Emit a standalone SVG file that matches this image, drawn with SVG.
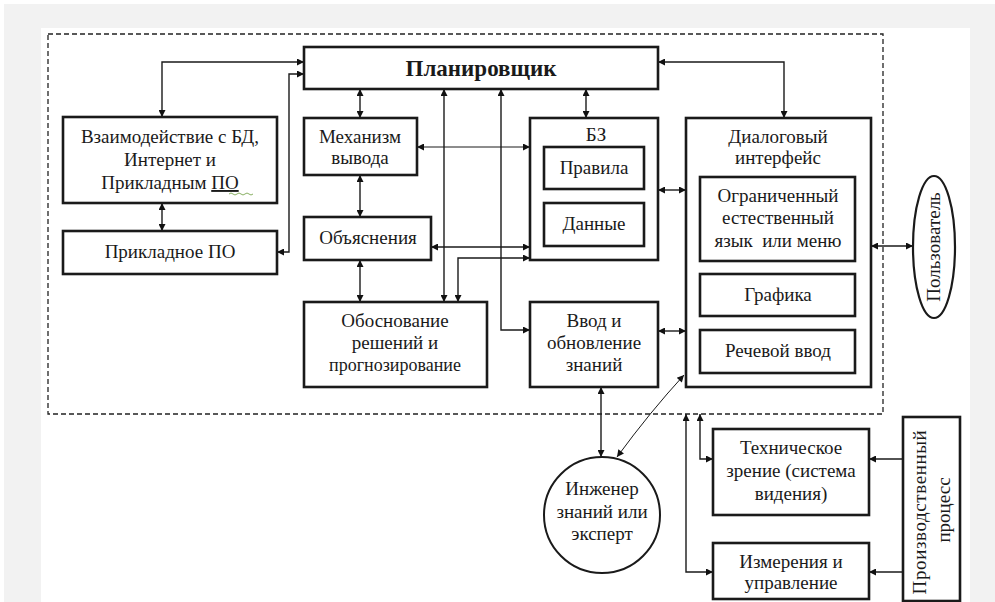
<svg xmlns="http://www.w3.org/2000/svg" width="995" height="602" viewBox="0 0 995 602">
<defs>
<marker id="ah" viewBox="0 0 10 10" refX="10" refY="5" markerWidth="9" markerHeight="7" markerUnits="userSpaceOnUse" orient="auto-start-reverse">
<path d="M0,0 L10,5 L0,10 z" fill="#111"/>
</marker>
<style>
.box{fill:#fff;stroke:#1a1a1a;stroke-width:2.6}
.c{fill:none;stroke:#1a1a1a;stroke-width:1.4;marker-start:url(#ah);marker-end:url(#ah)}
.one{marker-start:none}
.thin{stroke-width:1}
</style>
</defs>
<rect x="0" y="0" width="995" height="602" fill="#fff"/>
<rect x="4" y="4" width="991" height="598" fill="#f2f2f2"/>
<rect x="41" y="28" width="929" height="574" fill="#fff"/>
<rect x="48" y="34" width="835" height="380" fill="none" stroke="#222" stroke-width="1.3" stroke-dasharray="5,3"/>

<g id="connectors">
<path class="c" d="M162,117 V62 H304"/>
<path class="c" d="M277,252 H289 V74 H304"/>
<path class="c" d="M162,203 V231"/>
<path class="c" d="M360,89 V118"/>
<path class="c" d="M360,175 V217"/>
<path class="c" d="M360,260 V302"/>
<path class="c" d="M444,89 V302"/>
<path class="c" d="M501,89 V330 H530"/>
<path class="c" d="M458,302 V258 H530"/>
<path class="c" d="M431,247 H530"/>
<path class="c thin" d="M417,147 H530"/>
<path class="c" d="M586,89 V118"/>
<path class="c" d="M658,62 H784 V118"/>
<path class="c" d="M658,190 H686"/>
<path class="c" d="M658,331 H686"/>
<path class="c" d="M871,246 H913"/>
<path class="c" d="M601,387 V457"/>
<path class="c thin" d="M684,375 Q650,412 617,457"/>
<path class="c one" d="M903,459 H869"/>
<path class="c one" d="M903,572 H869"/>
<path class="c" d="M713,459 H700 V414"/>
<path class="c" d="M713,572 H686 V414"/>
</g>

<g fill="#1a1a1a" text-anchor="middle" font-size="19">
<g id="planner"><rect class="box" x="304" y="47" width="354" height="42"/><text font-family="Liberation Serif" font-weight="bold" font-size="23" x="481" y="76">Планировщик</text></g>
<g id="bd"><rect class="box" x="63" y="117" width="214" height="86"/>
<text font-family="Liberation Serif" x="170" y="143">Взаимодействие с БД,</text>
<text font-family="Liberation Serif" x="170" y="166">Интернет и</text>
<text font-family="Liberation Serif" x="170" y="189">Прикладным <tspan text-decoration="underline">ПО</tspan></text>
<path d="M229,194 q2,-2 4,0 t4,0 t4,0 t4,0 t4,0 t4,0" fill="none" stroke="#6a9a3a" stroke-width="0.8"/></g>
<g id="prik"><rect class="box" x="63" y="231" width="214" height="43"/><text font-family="Liberation Serif" x="170" y="258">Прикладное ПО</text></g>
<g id="mech"><rect class="box" x="304" y="118" width="113" height="57"/>
<text font-family="Liberation Serif" x="360" y="143">Механизм</text><text font-family="Liberation Serif" x="360" y="164">вывода</text></g>
<g id="expl"><rect class="box" x="304" y="217" width="127" height="43"/><text font-family="Liberation Serif" x="368" y="244">Объяснения</text></g>
<g id="bz"><rect class="box" x="530" y="118" width="128" height="142"/>
<text font-family="Liberation Serif" x="596" y="141">БЗ</text>
<rect class="box" x="544" y="147" width="100" height="42"/><text font-family="Liberation Serif" x="594" y="174">Правила</text>
<rect class="box" x="544" y="203" width="100" height="43"/><text font-family="Liberation Serif" x="594" y="230">Данные</text></g>
<g id="dialog"><rect class="box" x="686" y="118" width="185" height="269"/>
<text font-family="Liberation Serif" x="778" y="143">Диалоговый</text><text font-family="Liberation Serif" x="778" y="164">интерфейс</text>
<rect class="box" x="700" y="177" width="155" height="84"/>
<text font-family="Liberation Serif" x="778" y="202">Ограниченный</text><text font-family="Liberation Serif" x="778" y="224">естественный</text><text font-family="Liberation Serif" x="778" y="247" xml:space="preserve">язык  или меню</text>
<rect class="box" x="700" y="274" width="155" height="42"/><text font-family="Liberation Serif" x="778" y="301">Графика</text>
<rect class="box" x="700" y="330" width="155" height="43"/><text font-family="Liberation Serif" x="778" y="357">Речевой ввод</text></g>
<g id="obosn"><rect class="box" x="304" y="302" width="183" height="85"/>
<text font-family="Liberation Serif" x="395" y="327">Обоснование</text><text font-family="Liberation Serif" x="395" y="349">решений и</text><text font-family="Liberation Serif" x="395" y="371" font-size="18">прогнозирование</text></g>
<g id="vvod"><rect class="box" x="530" y="302" width="128" height="85"/>
<text font-family="Liberation Serif" x="594" y="327">Ввод и</text><text font-family="Liberation Serif" x="594" y="349">обновление</text><text font-family="Liberation Serif" x="594" y="371">знаний</text></g>
<g id="user"><ellipse cx="934" cy="247" rx="21" ry="71" fill="#fff" stroke="#1a1a1a" stroke-width="2.2"/>
<text font-family="Liberation Serif" transform="translate(940,247) rotate(-90)" x="0" y="0">Пользователь</text></g>
<g id="engineer"><circle cx="602" cy="515" r="58" fill="#fff" stroke="#1a1a1a" stroke-width="2"/>
<text font-family="Liberation Serif" x="602" y="495">Инженер</text><text font-family="Liberation Serif" x="602" y="518">знаний или</text><text font-family="Liberation Serif" x="602" y="540">эксперт</text></g>
<g id="tech"><rect class="box" x="713" y="429" width="156" height="86"/>
<text font-family="Liberation Serif" x="791" y="454">Техническое</text><text font-family="Liberation Serif" x="791" y="477">зрение (система</text><text font-family="Liberation Serif" x="791" y="500">видения)</text></g>
<g id="meas"><rect class="box" x="713" y="543" width="156" height="56"/>
<text font-family="Liberation Serif" x="791" y="568">Измерения и</text><text font-family="Liberation Serif" x="791" y="589">управление</text></g>
<g id="prod"><rect class="box" x="903" y="417" width="57" height="184"/>
<text font-family="Liberation Serif" transform="translate(926,512) rotate(-90)" x="0" y="0" letter-spacing="0.6">Производственный</text>
<text font-family="Liberation Serif" transform="translate(950,510) rotate(-90)" x="0" y="0">процесс</text></g>
</g>
</svg>
